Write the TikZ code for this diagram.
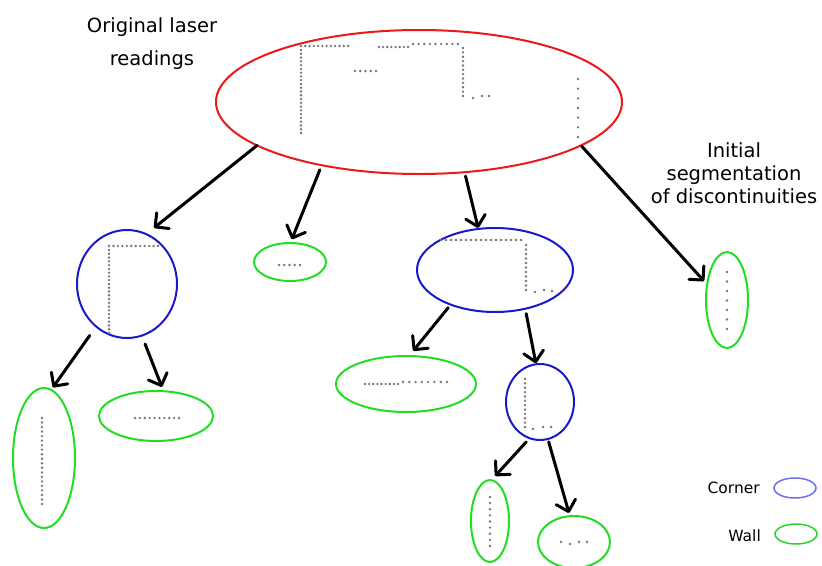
\documentclass[tikz,border=0pt]{standalone}
\usepackage{fontspec}
\setmainfont{DejaVu Sans}
\usepackage{tikz}
\usetikzlibrary{
  arrows.meta,
  shapes.geometric
}
\definecolor{laserred}{RGB}{235,25,25}
\definecolor{cornerblue}{RGB}{25,25,200}
\definecolor{wallgreen}{RGB}{35,220,35}
\definecolor{keyblue}{RGB}{110,110,235}
\definecolor{keygreen}{RGB}{45,210,45}
\definecolor{dotgray}{RGB}{115,115,115}
\tikzset{
  >={Straight Barb[length=10pt,width=20pt,round]},
  seg/.style={ellipse,draw,line width=2pt,inner sep=0pt,outer sep=0pt},
  laser/.style={seg,draw=laserred},
  corner/.style={seg,draw=cornerblue},
  wall/.style={seg,draw=wallgreen},
  key/.style={ellipse,draw,line width=1.5pt,inner sep=0pt},
  link/.style={->,line width=3pt,line cap=round},
  legend/.style={inner sep=0pt,font=\fontsize{15.5}{18}\selectfont}
}
% rows and columns of laser points
\newcommand\dotrow[4]{%
  \foreach \k in {0,...,#4}{\fill[dotgray] ({#1+(#2-#1)*\k/#4},#3) circle[radius=1.3pt];}}
\newcommand\dotcol[4]{%
  \foreach \k in {0,...,#4}{\fill[dotgray] (#1,{#2+(#3-#2)*\k/#4}) circle[radius=1.3pt];}}

\begin{document}
\begin{tikzpicture}[x=1pt,y=-1pt]
\useasboundingbox (0,0) rectangle (822,565);

\node[inner sep=0pt,align=center,font=\fontsize{19.5}{33}\selectfont] (title) at (152,43.4)
  {Original laser\\readings};
\node[inner sep=0pt,align=center,font=\fontsize{19.5}{23}\selectfont] (segtext) at (734,173)
  {Initial\\segmentation\\of discontinuities};

% segments
\node[laser,minimum width=406pt,minimum height=144pt] (scan) at (419,102) {};
\node[corner,minimum width=100pt,minimum height=108pt] (cA) at (127,284) {};
\node[wall,minimum width=72pt,minimum height=38pt] (wA) at (290,262) {};
\node[corner,minimum width=156pt,minimum height=84pt] (cB) at (495,270) {};
\node[wall,minimum width=42pt,minimum height=96pt] (wB) at (727,300) {};
\node[wall,minimum width=62pt,minimum height=140pt] (wC) at (44,458) {};
\node[wall,minimum width=114pt,minimum height=50pt] (wD) at (156,416) {};
\node[wall,minimum width=140pt,minimum height=56pt] (wE) at (406,384) {};
\node[corner,minimum width=68pt,minimum height=76pt] (cC) at (540,402) {};
\node[wall,minimum width=38pt,minimum height=82pt] (wF) at (490,521) {};
\node[wall,minimum width=72pt,minimum height=52pt] (wG) at (574,542) {};

% laser points
\dotrow{301}{348}{46}{11} \dotcol{301}{50}{133}{22} \dotrow{355}{376}{71}{4}
\dotrow{379}{408}{47}{7} \dotrow{413}{458}{44}{8} \dotcol{463}{48}{96}{11}
\fill[dotgray] (473,98) circle[radius=1.3pt] (482,96) circle[radius=1.3pt] (489,96) circle[radius=1.3pt];
\dotcol{578}{79}{137}{6}
\dotrow{109}{158}{246}{11} \dotcol{109}{250}{333}{22}
\dotrow{279}{300}{265}{4}
\dotrow{441}{521}{240}{16} \dotcol{526}{245}{290}{10}
\fill[dotgray] (535,292) circle[radius=1.3pt] (544,290) circle[radius=1.3pt] (552,291) circle[radius=1.3pt];
\dotcol{727}{272}{329}{6}
\dotcol{42}{418}{504}{19}
\dotrow{135}{179}{418}{9}
\dotrow{365}{398}{384}{8} \dotrow{403}{447}{382}{7}
\dotcol{525}{379}{427}{11}
\fill[dotgray] (533,429) circle[radius=1.3pt] (543,427) circle[radius=1.3pt] (551,427) circle[radius=1.3pt];
\dotcol{490}{497}{546}{8}
\fill[dotgray] (561,542) circle[radius=1.3pt] (570,544) circle[radius=1.3pt] (579,542) circle[radius=1.3pt] (587,542) circle[radius=1.3pt];

% splits
\draw[link,shorten >=10pt] (scan.195.6) -- (cA.69);
\draw[link,shorten <=5pt,shorten >=4pt] (scan.213.8) -- (wA.89);
\draw[link,shorten <=4pt,shorten >=1pt] (scan.303.3) -- (cB.112.3);
\draw[link,shorten <=1pt,shorten >=4.5pt] (scan.345.7) -- (wB.142.1);
\draw[link,shorten <=11pt,shorten >=3pt] (cA.234) -- (wC.84.1);
\draw[link,shorten <=9pt,shorten >=4.5pt] (cA.286) -- (wD.73);
\draw[link,shorten <=4pt,shorten >=6.7pt] (cB.218.8) -- (wE.84);
\draw[link,shorten <=5pt,shorten >=1pt] (cB.308.5) -- (cC.96);
\draw[link,shorten <=5pt,shorten >=5.5pt] (cC.254) -- (wF.88);
\draw[link,shorten <=3pt,shorten >=3.3pt] (cC.282) -- (wG.99);

% key
\node[key,draw=keyblue,minimum width=42pt,minimum height=20pt] (kC) at (795,488) {};
\node[key,draw=keygreen,minimum width=42pt,minimum height=20pt] (kW) at (796,534) {};
\node[legend,anchor=base east] (tC) at (760,493) {Corner};
\node[legend,anchor=base east] (tW) at (761,541) {Wall};
\end{tikzpicture}
\end{document}
